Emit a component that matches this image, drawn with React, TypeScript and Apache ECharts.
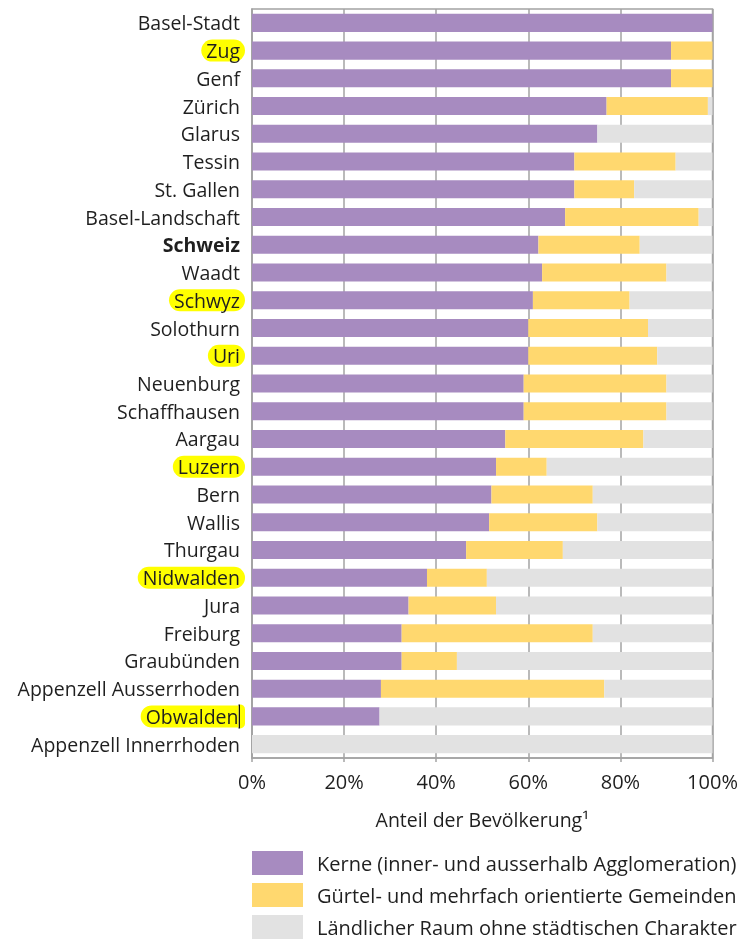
import React, { useEffect, useRef } from "react";
import * as echarts from "echarts";

const categories = [
  "Basel-Stadt", "Zug", "Genf", "Zürich", "Glarus", "Tessin", "St. Gallen",
  "Basel-Landschaft", "Schweiz", "Waadt", "Schwyz", "Solothurn", "Uri",
  "Neuenburg", "Schaffhausen", "Aargau", "Luzern", "Bern", "Wallis", "Thurgau",
  "Nidwalden", "Jura", "Freiburg", "Graubünden", "Appenzell Ausserrhoden",
  "Obwalden", "Appenzell Innerrhoden",
];
const highlighted = ["Zug", "Schwyz", "Uri", "Luzern", "Nidwalden", "Obwalden"];
const withCursor = ["Obwalden"];
const boldCats = ["Schweiz"];

const kerne = [100, 91, 91, 77, 75, 70, 70, 68, 62.2, 63, 61, 60, 60, 59, 59, 55, 53, 52, 51.5, 46.5, 38, 34, 32.5, 32.5, 28, 27.7, 0];
const guertel = [0, 9, 9, 22, 0, 22, 13, 29, 22, 27, 21, 26, 28, 31, 31, 30, 11, 22, 23.5, 21, 13, 19, 41.5, 12, 48.5, 0, 0];
const laendlich = [0, 0, 0, 1, 25, 8, 17, 3, 15.8, 10, 18, 14, 12, 10, 10, 15, 36, 26, 25, 32.5, 49, 47, 26, 55.5, 23.5, 72.3, 100];

const xTicks = [0, 20, 40, 60, 80, 100];

const seriesNames = [
  "Kerne (inner- und ausserhalb Agglomeration)",
  "Gürtel- und mehrfach orientierte Gemeinden",
  "Ländlicher Raum ohne städtischen Charakter",
];
const colors = ["#a78bc0", "#ffd86f", "#e2e2e2"];

const FONT = "'Open Sans', sans-serif";
const TXT = "#1f1f1f";
const AX = "#a3a3a3";
const HL = "#ffff00";

export default function App() {
  const ref = useRef<HTMLDivElement>(null);
  useEffect(() => {
    if (!ref.current) return;
    const chart = echarts.init(ref.current, undefined, { renderer: "svg" });
    const base = { fontSize: 19.5, lineHeight: 22, fontFamily: FONT, color: TXT, padding: [1, 5, 1, 5] };
    chart.setOption({
      animation: false,
      textStyle: { fontFamily: FONT },
      grid: {
        left: 252, right: 31.5, top: 9, bottom: 182,
        show: true, borderColor: AX, borderWidth: 1.5, backgroundColor: "transparent",
      },
      xAxis: {
        type: "value", min: xTicks[0], max: xTicks[xTicks.length - 1], interval: 20,
        axisLabel: { formatter: "{value}%", fontSize: 20, color: TXT, fontFamily: FONT, margin: 13 },
        axisLine: { show: true, lineStyle: { color: AX, width: 1.5 } },
        axisTick: { show: true, length: 4, lineStyle: { color: AX, width: 1.5 } },
        splitLine: { show: true, lineStyle: { color: AX, width: 1.5 } },
        name: "Anteil der Bevölkerung¹",
        nameLocation: "middle", nameGap: 51,
        nameTextStyle: { fontSize: 19.5, color: TXT, fontFamily: FONT },
      },
      yAxis: {
        type: "category", inverse: true, data: categories,
        axisLine: { show: true, lineStyle: { color: AX, width: 1.5 } },
        axisTick: { show: false },
        axisLabel: {
          margin: 7,
          formatter: (v: string) => {
            if (withCursor.includes(v)) return "{hlo|" + v + "}{cur|}{hle|}";
            if (highlighted.includes(v)) return "{hl|" + v + "}";
            if (boldCats.includes(v)) return "{b|" + v + "}";
            return "{n|" + v + "}";
          },
          rich: {
            n: { ...base },
            b: { ...base, fontWeight: "bold" },
            hl: { ...base, backgroundColor: HL, borderRadius: 12 },
            hlo: { ...base, padding: [1, 0, 1, 5], backgroundColor: HL, borderRadius: [12, 0, 0, 12] },
            cur: { width: 1.5, height: 24, lineHeight: 24, backgroundColor: "#111111" },
            hle: { width: 5, height: 24, lineHeight: 24, backgroundColor: HL, borderRadius: [0, 12, 12, 0] },
          },
        },
      },
      legend: {
        orient: "vertical", left: 252, top: 851, itemWidth: 51, itemHeight: 24, itemGap: 8,
        padding: 0, icon: "rect", selectedMode: false,
        textStyle: { fontSize: 20, color: TXT, fontFamily: FONT, padding: [0, 0, 0, 9] },
        data: seriesNames,
      },
      series: [kerne, guertel, laendlich].map((d, i) => ({
        name: seriesNames[i], type: "bar", stack: "total", data: d,
        barWidth: "65%", itemStyle: { color: colors[i] },
      })),
    });
    return () => chart.dispose();
  }, []);
  return <div ref={ref} style={{ position: "fixed", left: 0, top: 0, width: 744, height: 940 }} />;
}
